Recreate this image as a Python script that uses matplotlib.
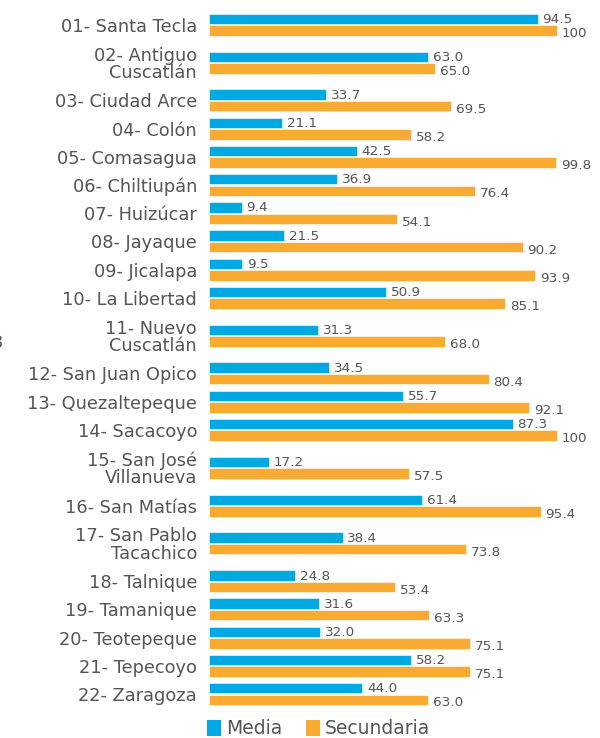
import matplotlib
matplotlib.use("Agg")
import matplotlib.pyplot as plt
from matplotlib.patches import Patch
import numpy as np

municipios = [
    "01- Santa Tecla", "02- Antiguo\nCuscatlán", "03- Ciudad Arce", "04- Colón",
    "05- Comasagua", "06- Chiltiupán", "07- Huizúcar", "08- Jayaque",
    "09- Jicalapa", "10- La Libertad", "11- Nuevo\nCuscatlán", "12- San Juan Opico",
    "13- Quezaltepeque", "14- Sacacoyo", "15- San José\nVillanueva", "16- San Matías",
    "17- San Pablo\nTacachico", "18- Talnique", "19- Tamanique", "20- Teotepeque",
    "21- Tepecoyo", "22- Zaragoza",
]
media = [94.5, 63.0, 33.7, 21.1, 42.5, 36.9, 9.4, 21.5, 9.5, 50.9, 31.3,
         34.5, 55.7, 87.3, 17.2, 61.4, 38.4, 24.8, 31.6, 32.0, 58.2, 44.0]
secundaria = [100, 65.0, 69.5, 58.2, 99.8, 76.4, 54.1, 90.2, 93.9, 85.1, 68.0,
              80.4, 92.1, 100, 57.5, 95.4, 73.8, 53.4, 63.3, 75.1, 75.1, 63.0]
series_names = ["Media", "Secundaria"]

BLUE = "#00a9e3"
ORANGE = "#f8ab30"
GREY = "#555555"

W, H, DPI = 600, 738, 100
fig = plt.figure(figsize=(W / DPI, H / DPI), dpi=DPI)

# rows with wrapped names take more vertical room
lines = np.array([s.count("\n") + 1 for s in municipios])
row_h = 1 + 0.684 * (lines - 1)
centers = np.cumsum(row_h) - row_h / 2
total = row_h.sum()
px_per_unit = 28.2

left_px, top_px = 209, 10.6
ax_h_px = total * px_per_unit
ax = fig.add_axes([left_px / W, 1 - (top_px + ax_h_px) / H,
                   (W - left_px) / W, ax_h_px / H])

xmax = (W - left_px) / 3.477
ax.set_xlim(0, xmax)
ax.set_ylim(total, 0)

off, bh = 0.205, 0.37
ax.barh(centers - off, media, height=bh, color=BLUE, edgecolor="white", linewidth=0.4)
ax.barh(centers + off, secundaria, height=bh, color=ORANGE, edgecolor="white", linewidth=0.4)


def fmt(v):
    return "100" if v >= 100 else f"{v:.1f}"


for y, v in zip(centers - off, media):
    ax.annotate(fmt(v), (v, y), xytext=(3.5, -0.4), textcoords="offset points",
                ha="left", va="center", fontsize=9.7, color=GREY)
for y, v in zip(centers + off, secundaria):
    ax.annotate(fmt(v), (v, y), xytext=(3.5, -2.2), textcoords="offset points",
                ha="left", va="center", fontsize=9.7, color=GREY)

ax.set_yticks(centers)
ax.set_yticklabels(municipios)
for t in ax.get_yticklabels():
    t.set_linespacing(0.95)
ax.tick_params(axis="y", length=0, pad=8.6, labelsize=12.8, labelcolor=GREY)
ax.set_xticks([])
for s in ax.spines.values():
    s.set_visible(False)

handles = [Patch(facecolor=BLUE), Patch(facecolor=ORANGE)]
fig.legend(handles, series_names, loc="center left",
           bbox_to_anchor=(207 / W, 1 - 729 / H), ncol=2, frameon=False,
           fontsize=13.5, labelcolor=GREY, handlelength=0.75, handleheight=0.95,
           handletextpad=0.25, columnspacing=1.3, borderpad=0, borderaxespad=0)

fig.text(3 / W, 1 - 343 / H, "3", ha="right", va="center", fontsize=12.8, color=GREY)

fig.savefig("out.png", dpi=DPI)
